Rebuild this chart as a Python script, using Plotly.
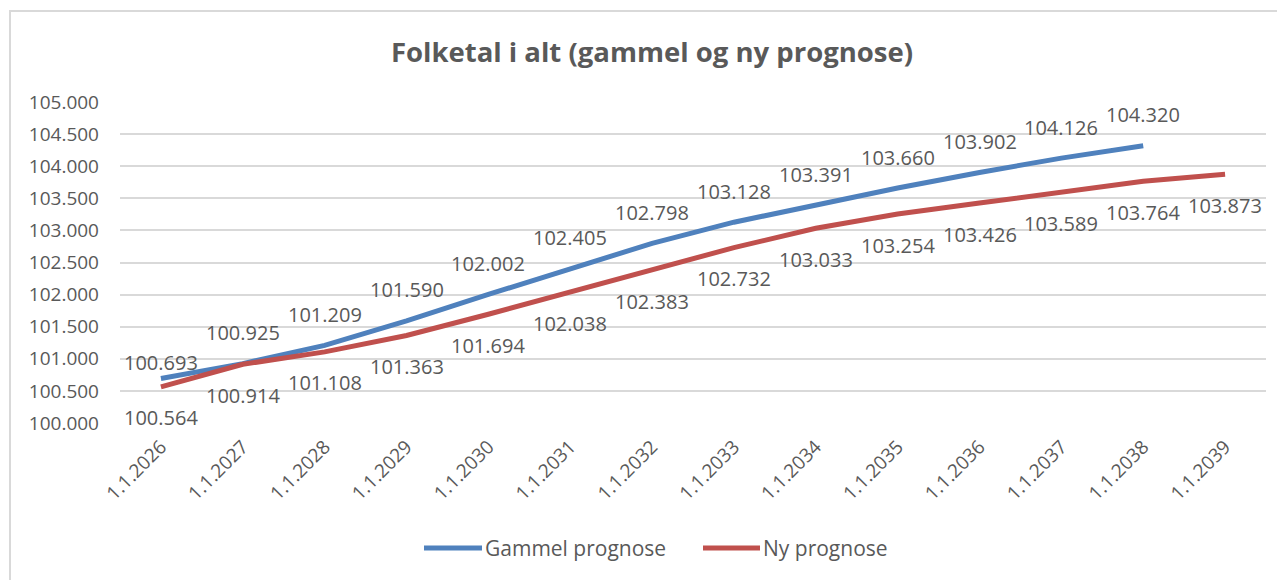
import plotly.graph_objects as go

categories = ["1.1.2026", "1.1.2027", "1.1.2028", "1.1.2029", "1.1.2030", "1.1.2031",
              "1.1.2032", "1.1.2033", "1.1.2034", "1.1.2035", "1.1.2036", "1.1.2037",
              "1.1.2038", "1.1.2039"]
gammel = [100693, 100925, 101209, 101590, 102002, 102405, 102798, 103128,
          103391, 103660, 103902, 104126, 104320]
ny = [100564, 100914, 101108, 101363, 101694, 102038, 102383, 102732,
      103033, 103254, 103426, 103589, 103764, 103873]
y_ticks = list(range(100000, 105001, 500))


def fmt(v):
    return f"{v:,}".replace(",", ".")


OFF = 8  # page body margin
W, H = 1285, 580
L, R, T, B = 120 - OFF, 1285 - (1266 - OFF), 102 - OFF, 580 - (423 - OFF)
pw, ph = W - L - R, H - T - B


def px(X):
    return (X - OFF - L) / pw


def py(Y):
    return 1 - (Y - OFF - T) / ph


FONT = "Open Sans"
GRAY = "#595959"
BLUE = "#4F81BD"
RED = "#C0504D"

fig = go.Figure()
fig.add_trace(go.Scatter(
    x=categories[:len(gammel)], y=gammel, name="Gammel prognose",
    mode="lines", line=dict(color=BLUE, width=5), showlegend=False,
))
fig.add_trace(go.Scatter(
    x=categories, y=ny, name="Ny prognose",
    mode="lines", line=dict(color=RED, width=5), showlegend=False,
))

# data labels
for i, v in enumerate(gammel):
    fig.add_annotation(x=categories[i], y=v, text=fmt(v), showarrow=False,
                       yshift=16 if i == 0 else 31, xanchor="center", yanchor="middle",
                       font=dict(size=20, color=GRAY, family=FONT))
for i, v in enumerate(ny):
    fig.add_annotation(x=categories[i], y=v, text=fmt(v), showarrow=False,
                       yshift=-31, xanchor="center", yanchor="middle",
                       font=dict(size=20, color=GRAY, family=FONT))

# outer chart border
fig.add_shape(type="rect", xref="paper", yref="paper",
              x0=px(10), x1=px(1300), y0=py(600), y1=py(11),
              line=dict(color="#D9D9D9", width=2), layer="below")

# cut-off heading above the chart
fig.add_annotation(text="<b>Folketal i alt</b>", xref="paper", yref="paper",
                   x=px(4), y=py(11), xanchor="left", yanchor="bottom",
                   showarrow=False, font=dict(size=24, color="#000000", family=FONT))

# legend (custom, to match long line samples)
legend_items = [("Gammel prognose", BLUE, 424, 482), ("Ny prognose", RED, 703, 760)]
for name, col, x0, x1 in legend_items:
    fig.add_shape(type="line", xref="paper", yref="paper",
                  x0=px(x0), x1=px(x1), y0=py(548), y1=py(548),
                  line=dict(color=col, width=5))
    fig.add_annotation(text=name, xref="paper", yref="paper", x=px(x1 + 1), y=py(548),
                       xanchor="left", yanchor="middle", showarrow=False,
                       font=dict(size=21, color=GRAY, family=FONT))

fig.update_layout(
    width=W, height=H,
    margin=dict(l=L, r=R, t=T, b=B, autoexpand=False),
    paper_bgcolor="white", plot_bgcolor="white",
    title=dict(text="<b>Folketal i alt (gammel og ny prognose)</b>",
               x=px(652), xref="paper", xanchor="center",
               y=1 - (52 - OFF) / H, yanchor="middle",
               font=dict(size=27.5, color=GRAY, family=FONT)),
    font=dict(family=FONT, color=GRAY),
    showlegend=False,
)
fig.update_xaxes(type="category", categoryorder="array", categoryarray=categories,
                 range=[-0.5, len(categories) - 0.5], tickangle=-45,
                 showgrid=False, showline=False, ticks="", ticklabelstandoff=8,
                 tickfont=dict(size=19, color=GRAY, family=FONT))
fig.update_yaxes(range=[100000, 105000], tickvals=y_ticks,
                 ticktext=[fmt(v) for v in y_ticks],
                 showgrid=True, gridcolor="#D9D9D9", gridwidth=2, zeroline=False,
                 showline=False, ticks="", ticklabelstandoff=20,
                 tickfont=dict(size=19, color=GRAY, family=FONT))

fig.write_html("out.html")
